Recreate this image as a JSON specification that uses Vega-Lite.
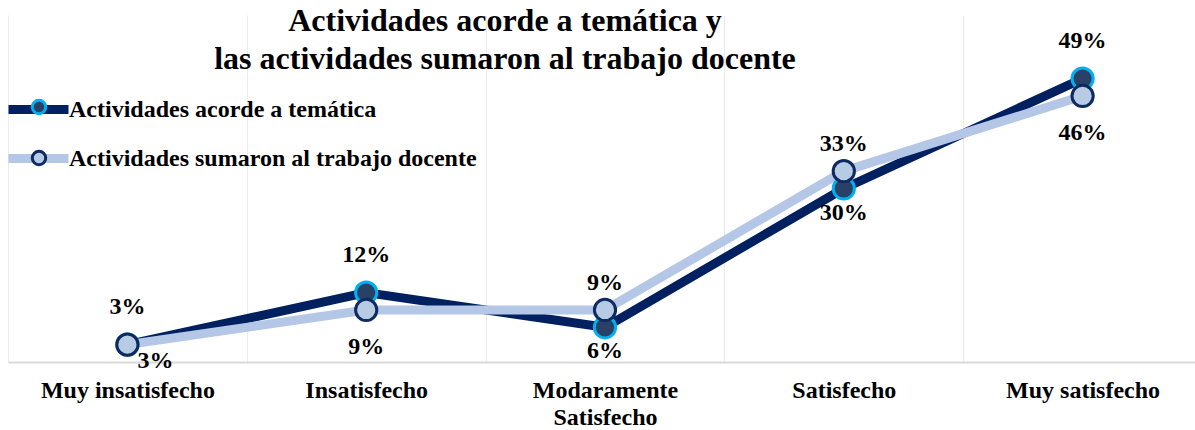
{
  "$schema": "https://vega.github.io/schema/vega-lite/v6.json",
  "width": 1194,
  "height": 347,
  "autosize": {"type": "none"},
  "padding": {"left": 8, "top": 15, "right": 0, "bottom": 68},
  "background": "white",
  "config": {"view": {"stroke": null}},
  "title": {
    "text": ["Actividades acorde a temática y", "las actividades sumaron al trabajo docente"],
    "font": "Liberation Serif",
    "fontSize": 32,
    "fontWeight": "bold",
    "color": "black",
    "anchor": "middle",
    "dx": -100,
    "dy": 61,
    "lineHeight": 38,
    "offset": 0
  },
  "data": {
    "values": [
      {"cat": "Muy insatisfecho", "serie": "Actividades acorde a temática", "v": 0.03},
      {"cat": "Insatisfecho", "serie": "Actividades acorde a temática", "v": 0.12},
      {"cat": "Modaramente Satisfecho", "serie": "Actividades acorde a temática", "v": 0.06},
      {"cat": "Satisfecho", "serie": "Actividades acorde a temática", "v": 0.30},
      {"cat": "Muy satisfecho", "serie": "Actividades acorde a temática", "v": 0.49},
      {"cat": "Muy insatisfecho", "serie": "Actividades sumaron al trabajo docente", "v": 0.03},
      {"cat": "Insatisfecho", "serie": "Actividades sumaron al trabajo docente", "v": 0.09},
      {"cat": "Modaramente Satisfecho", "serie": "Actividades sumaron al trabajo docente", "v": 0.09},
      {"cat": "Satisfecho", "serie": "Actividades sumaron al trabajo docente", "v": 0.33},
      {"cat": "Muy satisfecho", "serie": "Actividades sumaron al trabajo docente", "v": 0.46}
    ]
  },
  "encoding": {
    "x": {
      "field": "cat",
      "type": "nominal",
      "sort": null,
      "scale": {"type": "band", "paddingInner": 0, "paddingOuter": 0},
      "axis": {
        "title": null,
        "labelAngle": 0,
        "labelFont": "Liberation Serif",
        "labelFontSize": 24,
        "labelFontWeight": "bold",
        "labelColor": "black",
        "labelPadding": 16,
        "labelLineHeight": 27,
        "labelOverlap": false,
        "labelLimit": 400,
        "labelExpr": "datum.label == 'Modaramente Satisfecho' ? ['Modaramente', 'Satisfecho'] : datum.label",
        "ticks": false,
        "domainColor": "#D9D9D9",
        "domainWidth": 2,
        "grid": true,
        "gridColor": "#EBEBEB",
        "gridWidth": 1,
        "tickBand": "extent"
      }
    },
    "y": {
      "field": "v",
      "type": "quantitative",
      "scale": {"domain": [0, 0.6]},
      "axis": null
    }
  },
  "layer": [
    {
      "mark": {"type": "line", "strokeWidth": 9, "strokeJoin": "round"},
      "encoding": {
        "color": {
          "field": "serie",
          "type": "nominal",
          "scale": {
            "domain": ["Actividades acorde a temática", "Actividades sumaron al trabajo docente"],
            "range": ["#002060", "#B4C7E7"]
          },
          "legend": {
            "orient": "none",
            "legendX": 16,
            "legendY": 80,
            "title": null,
            "padding": 0,
            "symbolType": "M-3,0L3,0",
            "symbolSize": 400,
            "symbolStrokeWidth": 9,
            "labelFont": "Liberation Serif",
            "labelFontSize": 24,
            "labelFontWeight": "bold",
            "labelColor": "black",
            "labelOffset": 16,
            "labelLimit": 600,
            "rowPadding": 12
          }
        }
      }
    },
    {
      "mark": {"type": "point", "filled": true, "size": 450, "strokeWidth": 3, "opacity": 1},
      "encoding": {
        "fill": {
          "field": "serie",
          "type": "nominal",
          "scale": {"range": ["#2A4167", "#B8CBE5"]},
          "legend": {
            "orient": "none",
            "legendX": 19,
            "legendY": 80,
            "title": null,
            "padding": 0,
            "symbolType": "circle",
            "symbolSize": 180,
            "symbolStrokeWidth": 3,
            "symbolOpacity": 1,
            "labelFont": "Liberation Serif",
            "labelFontSize": 24,
            "labelFontWeight": "bold",
            "labelExpr": "''",
            "rowPadding": 25
          }
        },
        "stroke": {
          "field": "serie",
          "type": "nominal",
          "scale": {"range": ["#00B0F0", "#0E2A60"]},
          "legend": {
            "orient": "none",
            "legendX": 19,
            "legendY": 80,
            "title": null,
            "padding": 0,
            "symbolType": "circle",
            "symbolSize": 180,
            "symbolStrokeWidth": 3,
            "symbolOpacity": 1,
            "labelFont": "Liberation Serif",
            "labelFontSize": 24,
            "labelFontWeight": "bold",
            "labelExpr": "''",
            "rowPadding": 25
          }
        }
      }
    },
    {
      "transform": [{"filter": "datum.serie == 'Actividades acorde a temática' && (datum.cat == 'Muy insatisfecho' || datum.cat == 'Insatisfecho' || datum.cat == 'Muy satisfecho')"}],
      "mark": {"type": "text", "dy": -38, "font": "Liberation Serif", "fontSize": 24, "fontWeight": "bold", "color": "black"},
      "encoding": {"text": {"field": "v", "type": "quantitative", "format": ".0%"}}
    },
    {
      "transform": [{"filter": "datum.serie == 'Actividades acorde a temática' && (datum.cat == 'Modaramente Satisfecho' || datum.cat == 'Satisfecho')"}],
      "mark": {"type": "text", "dy": 24, "font": "Liberation Serif", "fontSize": 24, "fontWeight": "bold", "color": "black"},
      "encoding": {"text": {"field": "v", "type": "quantitative", "format": ".0%"}}
    },
    {
      "transform": [{"filter": "datum.serie == 'Actividades sumaron al trabajo docente' && (datum.cat == 'Modaramente Satisfecho' || datum.cat == 'Satisfecho')"}],
      "mark": {"type": "text", "dy": -27, "font": "Liberation Serif", "fontSize": 24, "fontWeight": "bold", "color": "black"},
      "encoding": {"text": {"field": "v", "type": "quantitative", "format": ".0%"}}
    },
    {
      "transform": [{"filter": "datum.serie == 'Actividades sumaron al trabajo docente' && (datum.cat == 'Insatisfecho' || datum.cat == 'Muy satisfecho')"}],
      "mark": {"type": "text", "dy": 37, "font": "Liberation Serif", "fontSize": 24, "fontWeight": "bold", "color": "black"},
      "encoding": {"text": {"field": "v", "type": "quantitative", "format": ".0%"}}
    },
    {
      "transform": [{"filter": "datum.serie == 'Actividades sumaron al trabajo docente' && datum.cat == 'Muy insatisfecho'"}],
      "mark": {"type": "text", "dx": 28, "dy": 16, "font": "Liberation Serif", "fontSize": 24, "fontWeight": "bold", "color": "black"},
      "encoding": {"text": {"field": "v", "type": "quantitative", "format": ".0%"}}
    }
  ]
}
